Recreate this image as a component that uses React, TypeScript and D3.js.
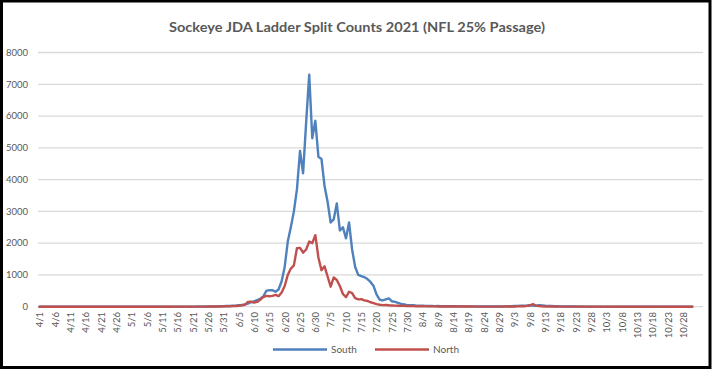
import React from "react";
import * as d3 from "d3";

// ---- data ----
const startDate = new Date(2021, 3, 1);
const nCategories = 217; // axis slots (4/1 .. 11/3)
const nData = 214; // data days 4/1 .. 10/31

const southValues: number[] = [
  // 4/1 - 4/30 (30)
  0,0,0,0,0,0,0,0,0,0, 0,0,0,0,0,0,0,0,0,0, 0,0,0,0,0,0,0,0,0,0,
  // 5/1 - 5/25 (25)
  0,0,0,0,1,0,0,1,0,0, 2,0,1,0,2,1,0,3,2,1, 3,2,4,3,5,
  // 5/26 - 6/5 (11)
  6,8,7,10,12,15,20,22,28,35,45,
  // 6/6 - 7/30 (idx 66-120, 55)
  55,70,100,140,170,210,250,320,500,520,
  520,470,540,800,1250,2050,2500,3000,3700,4900,
  4200,5800,7300,5300,5850,4720,4650,3800,3300,2650,
  2750,3250,2400,2500,2150,2650,1800,1250,1000,960,
  930,870,780,650,380,220,200,230,260,170,
  150,120,90,70,50,
  // 7/31 - 8/4 (idx 121-125)
  45,50,35,30,30,
  // idx 126-150 (25)
  25,20,22,18,20,15,18,14,12,15,12,10,12,10,8,10,9,8,10,7,8,6,8,7,6,
  // idx 151-170 (20)
  8,10,12,15,20,25,30,35,28,40,35,30,45,38,30,25,20,15,12,10,
  // idx 171-213 (43)
  8,6,5,4,5,3,4,3,2,3, 2,2,1,2,1,1,0,1,0,0, 1,0,0,0,1,0,0,0,0,0, 0,0,0,0,0,0,0,0,0,0, 0,0,0,
];

const northValues: number[] = [
  // 4/1 - 4/30 (30)
  0,0,0,0,0,0,0,0,0,0, 0,0,0,0,0,0,0,0,0,0, 0,0,0,0,0,0,0,0,0,0,
  // 5/1 - 5/25 (25)
  0,0,0,0,0,0,0,0,0,0, 1,0,0,0,1,0,0,1,1,0, 1,1,2,1,2,
  // 5/26 - 6/5 (11)
  3,4,5,6,8,10,12,15,18,22,30,
  // idx 66-120 (55)
  40,60,150,160,130,150,220,300,340,330,
  340,370,330,450,650,1000,1200,1300,1840,1850,
  1700,1800,2050,2000,2250,1550,1150,1270,950,630,
  920,840,650,400,300,470,430,270,230,240,
  200,180,140,110,80,60,50,55,45,40,
  35,30,28,25,20,
  // idx 121-125
  20,18,15,15,12,
  // idx 126-150 (25)
  12,10,10,9,8,8,7,7,6,6,5,5,5,4,4,4,3,3,3,3,2,2,2,2,2,
  // idx 151-170 (20)
  3,4,5,6,8,10,12,15,25,45,80,35,20,12,8,6,5,4,3,2,
  // idx 171-213 (43)
  2,2,2,1,1,2,1,1,1,0, 1,1,0,1,0,0,1,0,0,1, 0,0,1,0,0,0,1,0,0,0, 0,1,0,0,0,0,0,0,0,0, 0,0,0,
];

const yTicks: number[] = [0, 1000, 2000, 3000, 4000, 5000, 6000, 7000, 8000];
const seriesNames: string[] = ["South", "North"];
const seriesColors: string[] = ["#4F81BD", "#C0504D"];
const titleText = "Sockeye JDA Ladder Split Counts 2021 (NFL 25% Passage)";

const fmt = (d: Date) => `${d.getMonth() + 1}/${d.getDate()}`;
const categories: string[] = Array.from({ length: nCategories }, (_, i) =>
  fmt(d3.timeDay.offset(startDate, i))
);
const tickLabels: string[] = categories.slice(0, nData).filter((_, i) => i % 5 === 0);

export default function App() {
  const W = 713;
  const H = 371;
  const left = 38;
  const right = 703;
  const y0 = 306.7;
  const yTop = 52.5;

  const x = d3.scaleBand<string>().domain(categories).range([left, right]).padding(0);
  const cx = (c: string) => (x(c) as number) + x.bandwidth() / 2;
  const y = d3.scaleLinear().domain([0, 8000]).range([y0, yTop]);

  const line = d3
    .line<number>()
    .x((_, i) => cx(categories[i]))
    .y((v) => y(v));

  const font = "Lato, 'Open Sans', sans-serif";
  const gray = "#595959";

  const legendItems = [
    { name: seriesNames[0], color: seriesColors[0], x1: 273, x2: 327, tx: 331 },
    { name: seriesNames[1], color: seriesColors[1], x1: 375, x2: 429, tx: 433 },
  ];

  return (
    <svg
      width={W}
      height={H}
      style={{ position: "absolute", left: 0, top: 0, background: "#fff" }}
      fontFamily={font}
    >
      <rect x={0} y={0} width={W} height={H} fill="#fff" />
      <text
        x={357}
        y={32}
        textAnchor="middle"
        fontSize={14}
        fontWeight="bold"
        fill={gray}
        textLength={376}
        lengthAdjust="spacingAndGlyphs"
      >
        {titleText}
      </text>

      {yTicks.map((t) => (
        <g key={t}>
          <line x1={left} x2={right} y1={y(t)} y2={y(t)} stroke="#D9D9D9" strokeWidth={1.3} />
          <text x={28} y={y(t)} dy="0.35em" textAnchor="end" fontSize={9.5} fill={gray}>
            {t}
          </text>
        </g>
      ))}

      {tickLabels.map((lab) => {
        const px = cx(lab);
        return (
          <text
            key={lab}
            transform={`translate(${px + 0.5},${312}) rotate(-90)`}
            textAnchor="end"
            dy="0.35em"
            fontSize={9.5}
            fill={gray}
          >
            {lab}
          </text>
        );
      })}

      {[southValues, northValues].map((vals, si) => (
        <path
          key={si}
          d={line(vals.slice(0, nData)) || ""}
          fill="none"
          stroke={seriesColors[si]}
          strokeWidth={2.4}
          strokeLinejoin="round"
          strokeLinecap="round"
        />
      ))}

      {legendItems.map((it) => (
        <g key={it.name}>
          <line x1={it.x1} x2={it.x2} y1={349.5} y2={349.5} stroke={it.color} strokeWidth={2.6} />
          <text x={it.tx} y={349.5} dy="0.35em" fontSize={10} fill={gray}>
            {it.name}
          </text>
        </g>
      ))}

      <rect x={1.5} y={1} width={708.5} height={366.5} fill="none" stroke="#000" strokeWidth={3} />
    </svg>
  );
}
